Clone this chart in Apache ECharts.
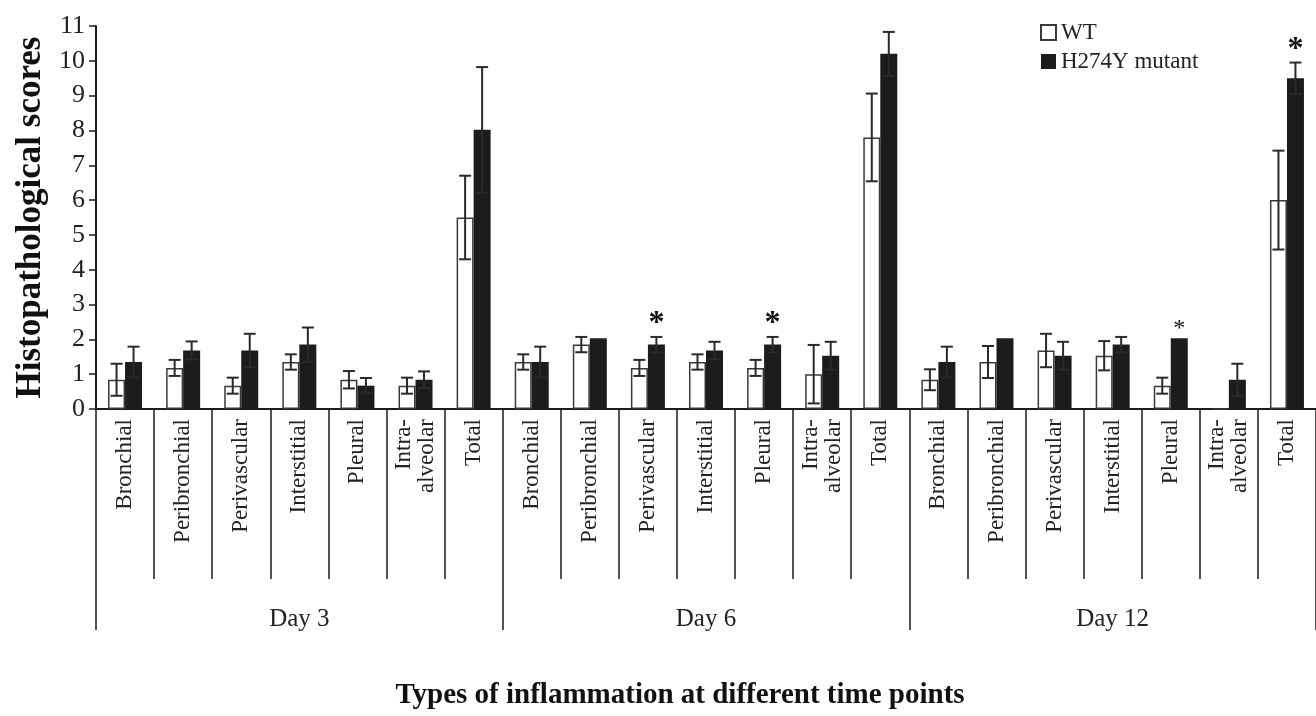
<!DOCTYPE html>
<html>
<head>
<meta charset="utf-8">
<script src="https://cdn.jsdelivr.net/npm/echarts@6/dist/echarts.min.js"></script>
<style>
  html, body { margin: 0; padding: 0; background: #fff; }
  #main { width: 1316px; height: 716px; }
</style>
</head>
<body>
<div id="main"></div>
<script>
// categories (repeated for each day) and the day groups
var types = ['Bronchial', 'Peribronchial', 'Perivascular', 'Interstitial', 'Pleural', 'Intra-\nalveolar', 'Total'];
var days = ['Day 3', 'Day 6', 'Day 12'];
var categories = types.concat(types, types);

// mean scores and error (SD)
var wtMean  = [0.84, 1.18, 0.67, 1.35, 0.84, 0.67, 5.5,   1.35, 1.85, 1.18, 1.35, 1.18, 1.0, 7.8,   0.84, 1.35, 1.68, 1.53, 0.67, 0, 6.0];
var wtErr   = [0.46, 0.23, 0.23, 0.22, 0.25, 0.23, 1.2,   0.22, 0.22, 0.23, 0.22, 0.23, 0.84, 1.26, 0.3, 0.46, 0.48, 0.42, 0.23, 0, 1.42];
var mutMean = [1.35, 1.68, 1.68, 1.85, 0.67, 0.84, 8.02,  1.35, 2.03, 1.85, 1.68, 1.85, 1.53, 10.2, 1.35, 2.03, 1.53, 1.85, 2.03, 0.84, 9.5];
var mutErr  = [0.44, 0.26, 0.48, 0.49, 0.22, 0.24, 1.8,   0.44, 0, 0.22, 0.25, 0.22, 0.4, 0.63,   0.44, 0, 0.4, 0.22, 0, 0.46, 0.45];
// significance marks over the mutant bars
var stars   = ['', '', '', '', '', '', '',  '', '', '*', '', '*', '', '',  '', '', '', '', '*', '', '*'];

var FONT = '"Liberation Serif", "Times New Roman", serif';
var INK = '#1c1c1c';
var BAR_W = 17;
var lightStars = [18];   // this one is printed smaller / not bold

var myChart = echarts.init(document.getElementById('main'));

function errData(mean, err) {
    var out = [];
    for (var i = 0; i < mean.length; i++) {
        out.push([i, mean[i], err[i]]);
    }
    return out;
}

function errorBar(offset, withStars) {
    return function (params, api) {
        var idx = api.value(0);
        var m = api.value(1);
        var e = api.value(2);
        var children = [];
        var top = api.coord([idx, m + e]);
        var bot = api.coord([idx, Math.max(m - e, 0)]);
        var x = top[0] + offset;
        var cap = 6;
        var st = { stroke: '#2a2a2a', lineWidth: 2 };
        if (e > 0) {
            children.push({ type: 'line', shape: { x1: x, y1: top[1], x2: x, y2: bot[1] }, style: st });
            children.push({ type: 'line', shape: { x1: x - cap, y1: top[1], x2: x + cap, y2: top[1] }, style: st });
            children.push({ type: 'line', shape: { x1: x - cap, y1: bot[1], x2: x + cap, y2: bot[1] }, style: st });
        }
        if (withStars && stars[idx]) {
            var light = lightStars.indexOf(idx) >= 0;
            children.push({
                type: 'text',
                x: x, y: top[1] + (light ? 2 : 3),
                style: {
                    text: stars[idx], align: 'center', verticalAlign: 'bottom',
                    fontSize: light ? 24 : 32, fontWeight: light ? 'normal' : 'bold',
                    fontFamily: FONT, fill: '#111'
                }
            });
        }
        return { type: 'group', children: children };
    };
}

var option = {
    animation: false,
    backgroundColor: '#fff',
    grid: { left: 96, top: 26, width: 1226, height: 383 },
    legend: {
        data: ['WT', 'H274Y mutant'],
        orient: 'vertical',
        left: 1035, top: 16,
        icon: 'rect',
        itemWidth: 15, itemHeight: 15, itemGap: 6,
        textStyle: { fontSize: 23, fontFamily: FONT, color: '#222' }
    },
    xAxis: [
        {
            type: 'category',
            data: categories,
            position: 'bottom',
            axisLine: { show: true, lineStyle: { color: INK, width: 2 } },
            axisTick: { show: true, length: 170, lineStyle: { color: INK, width: 1.5 } },
            axisLabel: {
                interval: 0, rotate: 90, margin: 10,
                fontSize: 23, lineHeight: 23, fontFamily: FONT, color: '#222'
            }
        },
        {
            type: 'category',
            data: days,
            position: 'bottom',
            axisLine: { show: false },
            axisTick: { show: true, length: 221, lineStyle: { color: INK, width: 1.5 } },
            axisLabel: { margin: 198, fontSize: 25, fontFamily: FONT, color: '#222' }
        }
    ],
    yAxis: {
        type: 'value',
        min: 0, max: 11, interval: 1,
        name: 'Histopathological scores',
        nameLocation: 'middle',
        nameGap: 42,
        nameTextStyle: { fontSize: 35, fontWeight: 'bold', fontFamily: FONT, color: '#111' },
        axisLine: { show: true, lineStyle: { color: INK, width: 2 } },
        axisTick: { show: true, length: 7, lineStyle: { color: INK, width: 1.5 } },
        axisLabel: { fontSize: 26, fontFamily: FONT, color: '#222', margin: 11 },
        splitLine: { show: false }
    },
    graphic: [{
        type: 'text',
        x: 680, y: 696,
        style: {
            text: 'Types of inflammation at different time points',
            align: 'center', verticalAlign: 'middle',
            fontSize: 29, fontWeight: 'bold', fontFamily: FONT, fill: '#111'
        }
    }],
    series: [
        {
            name: 'WT',
            type: 'bar',
            barWidth: BAR_W,
            barGap: '0%',
            itemStyle: { color: '#fff', borderColor: '#3a3a3a', borderWidth: 1.5 },
            data: wtMean
        },
        {
            name: 'H274Y mutant',
            type: 'bar',
            barWidth: BAR_W,
            barGap: '0%',
            itemStyle: { color: INK },
            data: mutMean
        },
        {
            type: 'custom',
            z: 5,
            renderItem: errorBar(-BAR_W / 2, false),
            data: errData(wtMean, wtErr)
        },
        {
            type: 'custom',
            z: 5,
            renderItem: errorBar(BAR_W / 2, true),
            data: errData(mutMean, mutErr)
        }
    ]
};

myChart.setOption(option);
</script>
</body>
</html>
